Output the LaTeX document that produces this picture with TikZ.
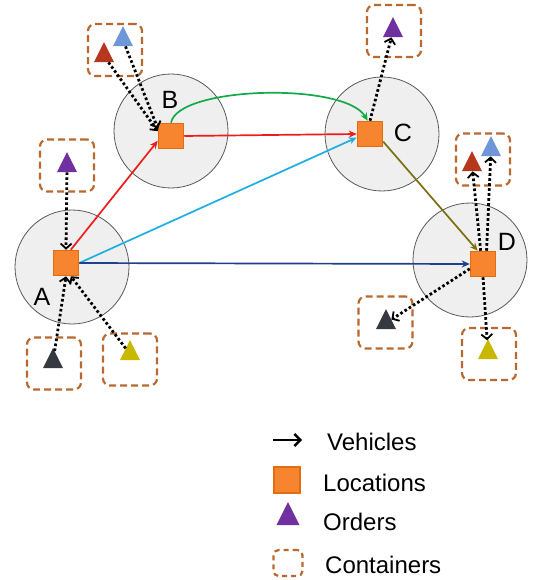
\documentclass[tikz,border=0pt]{standalone}
\usepackage{fontspec}
\setmainfont{Liberation Sans}
\usetikzlibrary{arrows.meta,shapes.geometric}
\definecolor{locfill}{HTML}{F7842F}
\definecolor{locdraw}{HTML}{E46C0A}
\definecolor{contc}{HTML}{B9692F}
\definecolor{zonefill}{HTML}{EFEFEF}
\definecolor{zonedraw}{HTML}{595959}
\definecolor{tred}{HTML}{B5381E}
\definecolor{tblue}{HTML}{6F96D8}
\definecolor{tpurple}{HTML}{7030A0}
\definecolor{tdark}{HTML}{343A40}
\definecolor{tyellow}{HTML}{C9B800}
\definecolor{ared}{HTML}{F01C1C}
\definecolor{agreen}{HTML}{12AA4A}
\definecolor{acyan}{HTML}{1EAEE0}
\definecolor{anavy}{HTML}{1F3F8F}
\definecolor{aolive}{HTML}{7A7010}
\begin{document}
\begin{tikzpicture}[x=1pt,y=-1pt,
 zone/.style={circle,draw=zonedraw,fill=zonefill,line width=0.8pt,minimum size=114pt,inner sep=0},
 loc/.style={rectangle,draw=locdraw,fill=locfill,line width=1.5pt,minimum size=25pt,inner sep=0},
 cont/.style={rectangle,draw=contc,dash pattern=on 7pt off 4pt,line width=2.2pt,rounded corners=7pt,minimum width=54pt,minimum height=52pt,inner sep=0},
 ord/.style={isosceles triangle,isosceles triangle stretches,shape border rotate=90,minimum width=20pt,minimum height=20pt,inner sep=0,draw=none},
 veh/.style={line width=1.7pt,-{Stealth[length=8pt,width=7pt]}},
 dotarr/.style={line width=2.8pt,dash pattern=on 2.6pt off 2.4pt,-{Straight Barb[length=5pt,width=11pt,line width=1.8pt]}},
 legarr/.style={line width=2.4pt,-{Straight Barb[length=6pt,width=12pt,line width=2.4pt]}},
 lbl/.style={font=\fontsize{25}{28}\selectfont,inner sep=0},
 leg/.style={font=\fontsize{24}{28}\selectfont,anchor=west,inner sep=0}]
\useasboundingbox (0,0) rectangle (553,580);
% zones
\node[zone] (zB) at (171,131) {};
\node[zone] (zC) at (382,134) {};
\node[zone] (zA) at (72,267) {};
\node[zone] (zD) at (470,260) {};
% labels
\node[lbl] (lB) at (170,100) {B};
\node[lbl] (lC) at (403,133) {C};
\node[lbl] (lD) at (507,242) {D};
\node[lbl] (lA) at (42,297) {A};
% locations
\node[loc] (sqB) at (171,136) {};
\node[loc] (sqC) at (370,134) {};
\node[loc] (sqA) at (66,263) {};
\node[loc] (sqD) at (483,264) {};
% vehicle routes
\draw[veh,ared] (sqA.70) -- (sqB.200);
\draw[veh,ared] (sqB.east) -- (sqC.west);
\draw[veh,agreen] (sqB.north) .. controls (178,86) and (345,82) .. (sqC.100);
\draw[veh,acyan] (sqA.east) -- (sqC.195);
\draw[veh,anavy] (sqA.east) -- (sqD.west);
\draw[veh,aolive] (sqC.-30) -- (sqD.112);
% containers
\node[cont] (cB) at (115,50) {};
\node[cont] (cAt) at (67,165.5) {};
\node[cont] (cC) at (394,31) {};
\node[cont] (cDt) at (483,159.5) {};
\node[cont] (cAl) at (54,363.5) {};
\node[cont] (cAr) at (130,359.5) {};
\node[cont] (cDl) at (385.5,322.5) {};
\node[cont] (cDb) at (489,354) {};
% orders
\node[ord,fill=tred] (tBr) at (104,56) {};
\node[ord,fill=tblue] (tBb) at (123,40) {};
\node[ord,fill=tpurple] (tAt) at (67,166) {};
\node[ord,fill=tpurple] (tC) at (393,31) {};
\node[ord,fill=tred] (tDr) at (472,165) {};
\node[ord,fill=tblue] (tDb) at (491,150) {};
\node[ord,fill=tdark] (tAl) at (53,362) {};
\node[ord,fill=tyellow] (tAy) at (130,354) {};
\node[ord,fill=tdark] (tDd) at (386,323) {};
\node[ord,fill=tyellow] (tDy) at (488,353) {};
% order movements
\draw[dotarr] (tBr) -- (sqB.160);
\draw[dotarr] (tBb) -- (sqB.150);
\draw[dotarr] (tAt) -- (sqA.north);
\draw[dotarr] (tAl) -- (sqA.south);
\draw[dotarr] (tAy) -- (sqA.-70);
\draw[dotarr] (sqC.north) -- (tC);
\draw[dotarr] (sqD.100) -- (tDr);
\draw[dotarr] (sqD.75) -- (tDb);
\draw[dotarr] (sqD.200) -- (tDd);
\draw[dotarr] (sqD.south) -- (tDy);
% legend
\coordinate (lv1) at (273,440);
\coordinate (lv2) at (302,440);
\draw[legarr] (lv1) -- (lv2);
\node[loc,minimum size=26pt] (lsq) at (287,480) {};
\node[ord,fill=tpurple,minimum width=23pt,minimum height=23pt] (lord) at (288,518) {};
\node[cont,minimum width=29pt,minimum height=26pt,rounded corners=5pt,dash pattern=on 5pt off 4pt] (lcont) at (288,563) {};
\node[leg] (tv) at (327,442) {Vehicles};
\node[leg] (tl) at (323,483) {Locations};
\node[leg] (to) at (323,522) {Orders};
\node[leg] (tc) at (325,565) {Containers};
\end{tikzpicture}
\end{document}
